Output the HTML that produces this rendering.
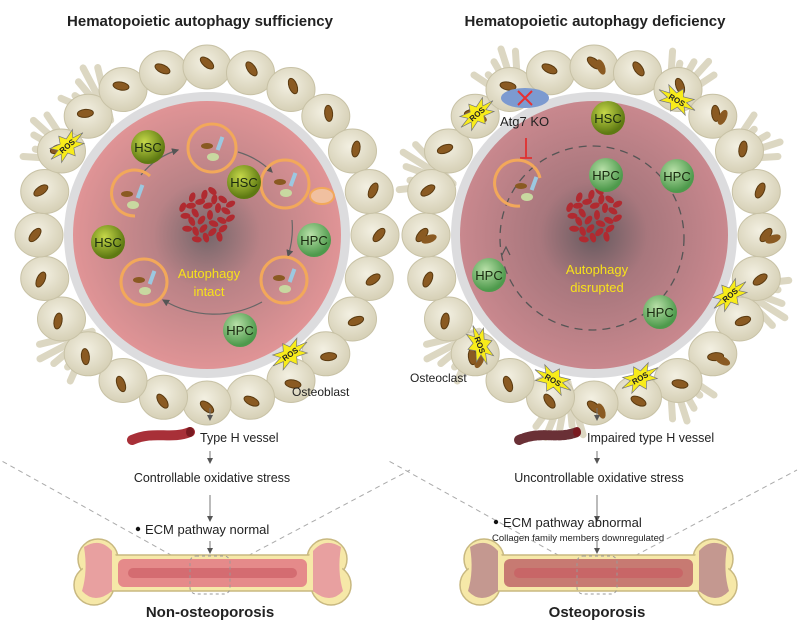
<!DOCTYPE html>
<html><head><meta charset="utf-8"><style>
body{margin:0;background:#fff}
svg{display:block;font-family:"Liberation Sans",sans-serif}
</style></head><body>
<svg id="s" width="800" height="632" viewBox="0 0 800 632" xmlns="http://www.w3.org/2000/svg">
<defs>
<radialGradient id="pk" cx="50%" cy="50%" r="50%">
<stop offset="0" stop-color="#75666a"/><stop offset="0.4" stop-color="#b98286"/><stop offset="1" stop-color="#e09496"/></radialGradient>
<radialGradient id="pk2" cx="50%" cy="50%" r="50%">
<stop offset="0" stop-color="#665a5f"/><stop offset="0.4" stop-color="#a8777d"/><stop offset="1" stop-color="#c9888e"/></radialGradient>
<radialGradient id="hsc" cx="40%" cy="35%" r="60%"><stop offset="0" stop-color="#c6d84a"/><stop offset="1" stop-color="#5e7a12"/></radialGradient>
<radialGradient id="hpc" cx="40%" cy="35%" r="60%"><stop offset="0" stop-color="#b8e0a8"/><stop offset="1" stop-color="#4e9a4c"/></radialGradient>
<radialGradient id="cell" cx="45%" cy="40%" r="60%"><stop offset="0" stop-color="#f3f0e2"/><stop offset="1" stop-color="#d6d0b6"/></radialGradient>
<marker id="ar" markerWidth="6" markerHeight="6" refX="5" refY="3" orient="auto"><path d="M0,0L6,3L0,6z" fill="#555"/></marker>
</defs>
<text x="200" y="26" text-anchor="middle" font-size="15" font-weight="bold" fill="#222">Hematopoietic autophagy sufficiency</text>
<text x="595" y="26" text-anchor="middle" font-size="15" font-weight="bold" fill="#222">Hematopoietic autophagy deficiency</text>
<g id="L"></g><g id="R"></g>
</svg>
<script>
const NS="http://www.w3.org/2000/svg";
function el(p,t,a,txt){const e=document.createElementNS(NS,t);for(const k in a)e.setAttribute(k,a[k]);if(txt)e.textContent=txt;p.appendChild(e);return e;}
const S=document.getElementById('s');
function side(g,cx,cy,grad,right){
 const br=right?[200,240,300,330,20,60,100,140]:[210,230,140];
 br.forEach(a=>{const r=a*Math.PI/180;for(let k=-2;k<=2;k++){const aa=r+k*0.06;el(g,'line',{x1:cx+150*Math.cos(r),y1:cy+150*Math.sin(r),x2:cx+(200+8*(k%2))*Math.cos(aa),y2:cy+(200+8*(k%2))*Math.sin(aa),stroke:'#dcd7c2','stroke-width':7,'stroke-linecap':'round'});}});
 const n=24;
 for(let i=0;i<n;i++){const a=i/n*2*Math.PI;const x=cx+168*Math.cos(a),y=cy+168*Math.sin(a);
  el(g,'ellipse',{cx:x,cy:y,rx:24,ry:22,fill:'url(#cell)',stroke:'#c8c2a6','stroke-width':1});
 }
 el(g,'circle',{cx,cy,r:143,fill:'#dcdcde'});
 el(g,'circle',{cx,cy,r:134,fill:'url(#'+grad+')'});
 for(let i=0;i<24;i++){const a=i/24*2*Math.PI;const x=cx+172*Math.cos(a),y=cy+172*Math.sin(a);
  el(g,'ellipse',{cx:x,cy:y,rx:4,ry:8,fill:'#8a5a22',stroke:'#5a3a10','stroke-width':1,transform:`rotate(${i*15+40} ${x} ${y})`});
  if(right&&i%3==0){const x2=x+7,y2=y+4;el(g,'ellipse',{cx:x2,cy:y2,rx:4,ry:8,fill:'#8a5a22',transform:`rotate(${i*15+70} ${x2} ${y2})`});}
 }
 for(let i=0;i<28;i++){const a=i*2.4,r=3+Math.sqrt(i)*4.5;const x=cx+r*Math.cos(a),y=cy-20+r*Math.sin(a);
  el(g,'ellipse',{cx:x,cy:y,rx:3,ry:5,fill:'#b02a30',transform:`rotate(${i*37} ${x} ${y})`});}
}
function cellN(g,x,y,t,hs){el(g,'circle',{cx:x,cy:y,r:17,fill:hs?'url(#hsc)':'url(#hpc)'});el(g,'text',{x:x,y:y+5,'text-anchor':'middle','font-size':13,fill:'#1a2a10'},t);}
function ros(g,x,y,rot){let p='';for(let i=0;i<16;i++){const a=i/16*2*Math.PI,r=i%2?8:16;p+=(i?'L':'M')+(x+r*1.3*Math.cos(a))+','+(y+r*0.8*Math.sin(a));}
 const gg=el(g,'g',{transform:`rotate(${rot} ${x} ${y})`});el(gg,'path',{d:p+'z',fill:'#f8ec1a',stroke:'#777','stroke-width':0.7});el(gg,'text',{x:x,y:y+3,'text-anchor':'middle','font-size':8,'font-weight':'bold',fill:'#222'},'ROS');}
function auto(g,x,y,r,full){ if(full)el(g,'circle',{cx:x,cy:y,r:r,fill:'none',stroke:'#f2a85a','stroke-width':3});
 el(g,'ellipse',{cx:x-5,cy:y-2,rx:6,ry:3,fill:'#8a5a22'});el(g,'ellipse',{cx:x+1,cy:y+9,rx:6,ry:4,fill:'#c8d8a0'});el(g,'rect',{x:x+4,y:y-14,width:4,height:14,fill:'#9cc8e0',transform:`rotate(20 ${x} ${y})`});}
const L=document.getElementById('L'),R=document.getElementById('R');
side(L,207,235,'pk',false);side(R,594,235,'pk2',true);
el(L,'path',{d:'M141,175 A75,75 0 0 1 178,150',fill:'none',stroke:'#666','stroke-width':1.2,'marker-end':'url(#ar)'});
el(L,'path',{d:'M238,152 A80,80 0 0 1 272,172',fill:'none',stroke:'#666','stroke-width':1.2,'marker-end':'url(#ar)'});
el(L,'path',{d:'M292,220 A90,90 0 0 1 288,256',fill:'none',stroke:'#666','stroke-width':1.2,'marker-end':'url(#ar)'});
el(L,'path',{d:'M262,302 A100,100 0 0 1 163,300',fill:'none',stroke:'#666','stroke-width':1.2,'marker-end':'url(#ar)'});
auto(L,212,148,24,true);auto(L,285,184,24,true);auto(L,132,196,0,false);
el(L,'path',{d:'M150,176 A23,23 0 1 0 135,216',fill:'none',stroke:'#f2a85a','stroke-width':3});
el(L,'ellipse',{cx:322,cy:196,rx:12,ry:8,fill:'#f0c0a0',stroke:'#f2a85a','stroke-width':2});
auto(L,284,280,23,true);auto(L,144,282,23,true);
cellN(L,148,147,'HSC',1);cellN(L,244,182,'HSC',1);cellN(L,108,242,'HSC',1);cellN(L,314,240,'HPC',0);cellN(L,240,330,'HPC',0);
el(L,'text',{x:209,y:278,'text-anchor':'middle','font-size':13,fill:'#f7e21a'},'Autophagy');
el(L,'text',{x:209,y:296,'text-anchor':'middle','font-size':13,fill:'#f7e21a'},'intact');
ros(L,67,146,-40);ros(L,290,354,-35);
el(L,'text',{x:292,y:396,'font-size':12,fill:'#222'},'Osteoblast');
el(R,'circle',{cx:592,cy:238,r:92,fill:'none',stroke:'#555','stroke-width':1.3,'stroke-dasharray':'8,6'});
el(R,'path',{d:'M510,255 l-4,-8 l-4,8',fill:'none',stroke:'#555','stroke-width':1.2});
el(R,'ellipse',{cx:525,cy:98,rx:24,ry:10,fill:'#7c9ad0'});
el(R,'path',{d:'M518,91L532,105M532,91L518,105',stroke:'#e83030','stroke-width':2});
el(R,'text',{x:500,y:126,'font-size':13,fill:'#222'},'Atg7 KO');
el(R,'path',{d:'M526,138V158M520,158H532',stroke:'#e03030','stroke-width':1.8});
el(R,'path',{d:'M540,178 A23,23 0 1 0 520,206',fill:'none',stroke:'#f2a85a','stroke-width':3});
auto(R,526,188,0,false);
cellN(R,608,118,'HSC',1);cellN(R,606,175,'HPC',0);cellN(R,677,176,'HPC',0);cellN(R,489,275,'HPC',0);cellN(R,660,312,'HPC',0);
el(R,'text',{x:597,y:274,'text-anchor':'middle','font-size':13,fill:'#f7e21a'},'Autophagy');
el(R,'text',{x:597,y:292,'text-anchor':'middle','font-size':13,fill:'#f7e21a'},'disrupted');
ros(R,477,114,-40);ros(R,677,100,30);ros(R,730,295,-40);ros(R,480,345,70);ros(R,553,380,30);ros(R,640,378,-30);
el(R,'text',{x:410,y:382,'font-size':12,fill:'#222'},'Osteoclast');
function flow(cx,lines,impaired){const g=S;
 el(g,'line',{x1:cx,y1:408,x2:cx,y2:420,stroke:'#777','marker-end':'url(#ar)'});
 el(g,'path',{d:`M${cx-78},440 C${cx-55},430 ${cx-40},440 ${cx-20},432`,fill:'none',stroke:impaired?'#6a3036':'#a83038','stroke-width':10,'stroke-linecap':'round','stroke-dasharray':impaired?'3,2':'none'});
 el(g,'ellipse',{cx:cx-20,cy:432,rx:4,ry:5,fill:'#7a1a20'});
 el(g,'text',{x:cx-10,y:442,'font-size':12.5,fill:'#222'},lines[0]);
 el(g,'line',{x1:cx,y1:451,x2:cx,y2:463,stroke:'#777','marker-end':'url(#ar)'});
 el(g,'text',{x:cx+2,y:482,'text-anchor':'middle','font-size':12.5,fill:'#222'},lines[1]);
 el(g,'line',{x1:cx,y1:495,x2:cx,y2:521,stroke:'#777','marker-end':'url(#ar)'});
 el(g,'line',{x1:cx,y1:541,x2:cx,y2:553,stroke:'#777','marker-end':'url(#ar)'});
 el(g,'line',{x1:cx-30,y1:560,x2:cx-210,y2:460,stroke:'#aaa','stroke-dasharray':'5,4'});
 el(g,'line',{x1:cx+30,y1:560,x2:cx+200,y2:470,stroke:'#aaa','stroke-dasharray':'5,4'});
}
flow(210,['Type H vessel','Controllable oxidative stress']);
flow(597,['Impaired type H vessel','Uncontrollable oxidative stress'],true);
function bone(x0,x1,cy,inner,spongy){
 const Y='#f6e8a8',B='#c8b880';
 // heads: two lobes each
 [[x0+18,cy-12],[x0+14,cy+14],[x1-18,cy-12],[x1-14,cy+14]].forEach(p=>el(S,'circle',{cx:p[0],cy:p[1],r:20,fill:Y,stroke:B,'stroke-width':1.5}));
 el(S,'rect',{x:x0+20,y:cy-16,width:x1-x0-40,height:36,fill:Y,stroke:B,'stroke-width':1.5});
 [[x0+18,cy-12],[x0+14,cy+14],[x1-18,cy-12],[x1-14,cy+14]].forEach(p=>el(S,'circle',{cx:p[0],cy:p[1],r:18,fill:Y}));
 el(S,'rect',{x:x0+22,y:cy-14,width:x1-x0-44,height:32,fill:Y});
 el(S,'path',{d:`M${x0+4},${cy-24} Q${x0+20},${cy-34} ${x0+32},${cy-20} L${x0+32},${cy+20} Q${x0+15},${cy+34} ${x0+2},${cy+20} Q${x0+8},${cy} ${x0+4},${cy-24}Z`,fill:spongy});
 el(S,'path',{d:`M${x1-4},${cy-24} Q${x1-20},${cy-34} ${x1-32},${cy-20} L${x1-32},${cy+20} Q${x1-15},${cy+34} ${x1-2},${cy+20} Q${x1-8},${cy} ${x1-4},${cy-24}Z`,fill:spongy});
 el(S,'rect',{x:x0+38,y:cy-12,width:x1-x0-76,height:28,rx:6,fill:inner});
 el(S,'rect',{x:x0+48,y:cy-3,width:x1-x0-96,height:10,rx:5,fill:'#c85860',opacity:.6});
}
bone(80,345,571,'#e58a8a','#e8a0a0');
bone(466,731,571,'#c77a72','#c49890');
el(S,'rect',{x:190,y:556,width:40,height:38,rx:6,fill:'none',stroke:'#999','stroke-dasharray':'3,3'});
el(S,'rect',{x:577,y:556,width:40,height:38,rx:6,fill:'none',stroke:'#999','stroke-dasharray':'3,3'});
el(S,'circle',{cx:138,cy:529,r:2.2,fill:'#111'});
el(S,'text',{x:145,y:534,'font-size':13,fill:'#222'},'ECM pathway normal');
el(S,'circle',{cx:496,cy:522,r:2.2,fill:'#111'});
el(S,'text',{x:503,y:527,'font-size':13,fill:'#222'},'ECM pathway abnormal');
el(S,'text',{x:492,y:541,'font-size':9.5,fill:'#222'},'Collagen family members downregulated');
el(S,'text',{x:210,y:617,'text-anchor':'middle','font-size':15,'font-weight':'bold',fill:'#222'},'Non-osteoporosis');
el(S,'text',{x:597,y:617,'text-anchor':'middle','font-size':15,'font-weight':'bold',fill:'#222'},'Osteoporosis');
</script>
</body></html>
